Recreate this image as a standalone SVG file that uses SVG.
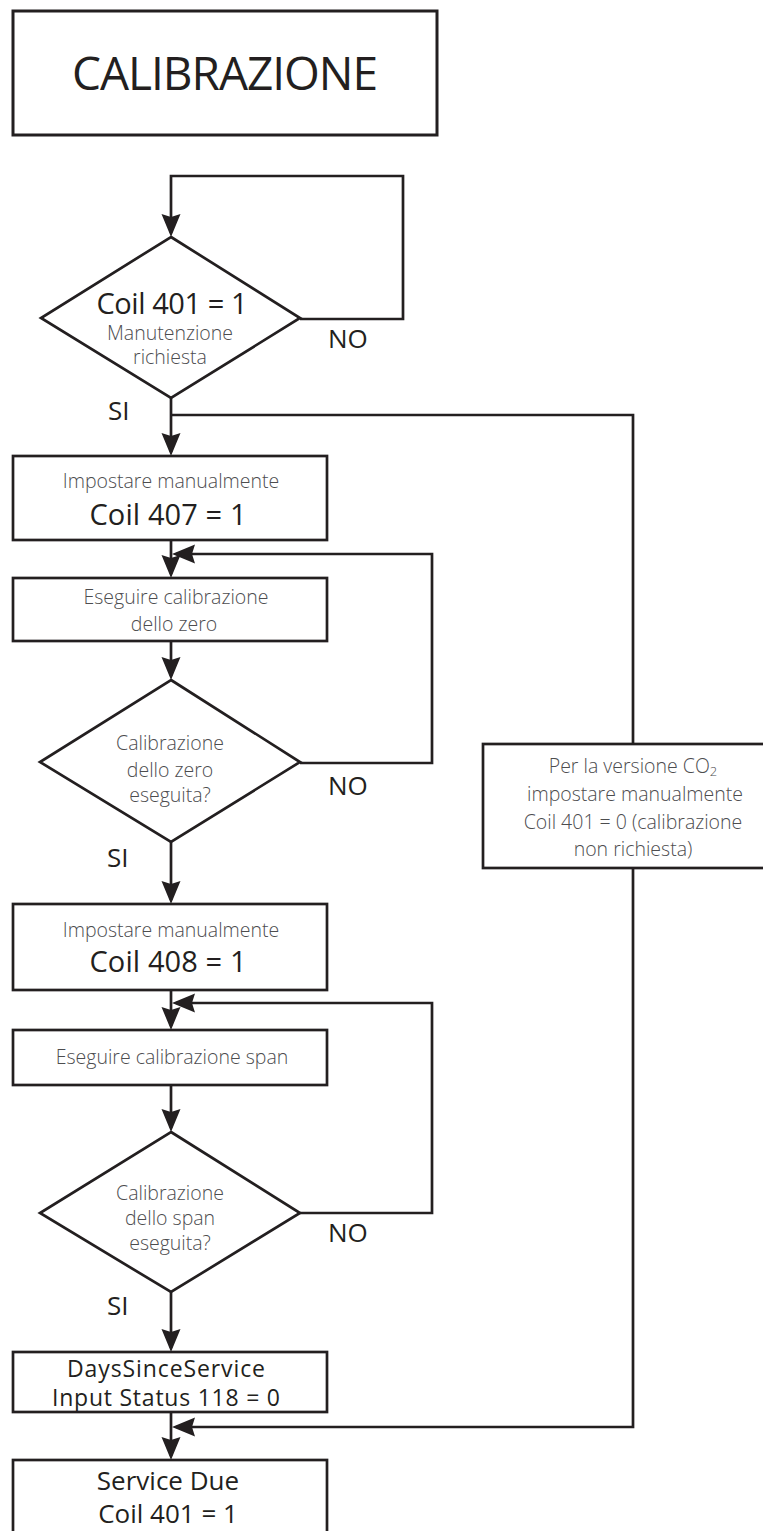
<svg xmlns="http://www.w3.org/2000/svg" width="763" height="1531" viewBox="0 0 763 1531">
<defs>
<style>
.box{fill:#fff;stroke:#231f20;stroke-width:2.7}
.title{fill:#fff;stroke:#231f20;stroke-width:3}
.con{fill:none;stroke:#231f20;stroke-width:2.7}
.big{font-family:"Open Sans","Liberation Sans",sans-serif;fill:#231f20;text-anchor:middle}
.sm{font-family:"Open Sans","Liberation Sans",sans-serif;font-weight:300;fill:#4d4d4f;text-anchor:middle;font-size:19.5px}
.lbl{font-family:"Open Sans","Liberation Sans",sans-serif;fill:#231f20;font-size:26px}
</style>
<marker id="ah" markerUnits="userSpaceOnUse" markerWidth="26" markerHeight="22" viewBox="0 -11 26 22" refX="19" refY="0" orient="auto">
<path d="M23,0 L0,-9.5 L3,0 L0,9.5 Z" fill="#231f20"/>
</marker>
</defs>
<g id="connectors">
<path class="con" d="M300,319 H403 V176 H171 V233" marker-end="url(#ah)"/>
<path class="con" d="M171,398 V452" marker-end="url(#ah)"/>
<path class="con" d="M171,415 H633 V744"/>
<path class="con" d="M633,868 V1427 H176" marker-end="url(#ah)"/>
<path class="con" d="M171,540 V574" marker-end="url(#ah)"/>
<path class="con" d="M300,763 H432 V554 H176" marker-end="url(#ah)"/>
<path class="con" d="M171,641 V676" marker-end="url(#ah)"/>
<path class="con" d="M171,842 V900" marker-end="url(#ah)"/>
<path class="con" d="M171,990 V1026" marker-end="url(#ah)"/>
<path class="con" d="M300,1213 H432 V1003 H176" marker-end="url(#ah)"/>
<path class="con" d="M171,1085 V1128" marker-end="url(#ah)"/>
<path class="con" d="M171,1292 V1348" marker-end="url(#ah)"/>
<path class="con" d="M171,1412 V1456" marker-end="url(#ah)"/>
</g>
<g id="title">
<rect class="title" x="13" y="11" width="424" height="124"/>
<text class="big" x="225" y="90" font-size="46" textLength="306">CALIBRAZIONE</text>
</g>
<g id="d1">
<polygon class="box" points="171,237 300,318 171,398 41,318"/>
<text class="big" x="172" y="314" font-size="29" textLength="151">Coil 401 = 1</text>
<text class="sm" x="170" y="340">Manutenzione</text>
<text class="sm" x="170" y="364">richiesta</text>
</g>
<g id="labels">
<text class="lbl" x="328" y="348">NO</text>
<text class="lbl" x="108" y="420">SI</text>
<text class="lbl" x="328" y="795">NO</text>
<text class="lbl" x="107" y="867">SI</text>
<text class="lbl" x="328" y="1242">NO</text>
<text class="lbl" x="107" y="1315">SI</text>
</g>
<g id="b2">
<rect class="box" x="13" y="456" width="314" height="84"/>
<text class="sm" x="171" y="488">Impostare manualmente</text>
<text class="big" x="168" y="525" font-size="29" textLength="157">Coil 407 = 1</text>
</g>
<g id="b3">
<rect class="box" x="13" y="578" width="314" height="63"/>
<text class="sm" x="176" y="604">Eseguire calibrazione</text>
<text class="sm" x="174" y="631">dello zero</text>
</g>
<g id="d2">
<polygon class="box" points="171,680 300,762 171,842 40,762"/>
<text class="sm" x="170" y="750">Calibrazione</text>
<text class="sm" x="170" y="777">dello zero</text>
<text class="sm" x="170" y="802">eseguita?</text>
</g>
<g id="co2">
<rect class="box" x="483" y="744" width="302" height="124"/>
<text class="sm" x="633" y="773">Per la versione CO<tspan font-size="13" dy="3">2</tspan></text>
<text class="sm" x="635" y="801">impostare manualmente</text>
<text class="sm" x="633" y="829">Coil 401 = 0 (calibrazione</text>
<text class="sm" x="633" y="856">non richiesta)</text>
</g>
<g id="b4">
<rect class="box" x="13" y="904" width="314" height="86"/>
<text class="sm" x="171" y="937">Impostare manualmente</text>
<text class="big" x="168" y="972" font-size="29" textLength="157">Coil 408 = 1</text>
</g>
<g id="b5">
<rect class="box" x="13" y="1030" width="314" height="55"/>
<text class="sm" x="172" y="1064">Eseguire calibrazione span</text>
</g>
<g id="d3">
<polygon class="box" points="171,1132 300,1213 171,1292 40,1213"/>
<text class="sm" x="170" y="1200">Calibrazione</text>
<text class="sm" x="170" y="1225">dello span</text>
<text class="sm" x="170" y="1250">eseguita?</text>
</g>
<g id="b6">
<rect class="box" x="13" y="1352" width="314" height="60"/>
<text class="big" x="166" y="1377" font-size="23" textLength="198">DaysSinceService</text>
<text class="big" x="166" y="1406" font-size="23" textLength="228">Input Status 118 = 0</text>
</g>
<g id="b7">
<rect class="box" x="13" y="1460" width="314" height="90"/>
<text class="big" x="168" y="1490" font-size="26">Service Due</text>
<text class="big" x="168" y="1523" font-size="26">Coil 401 = 1</text>
</g>
</svg>
